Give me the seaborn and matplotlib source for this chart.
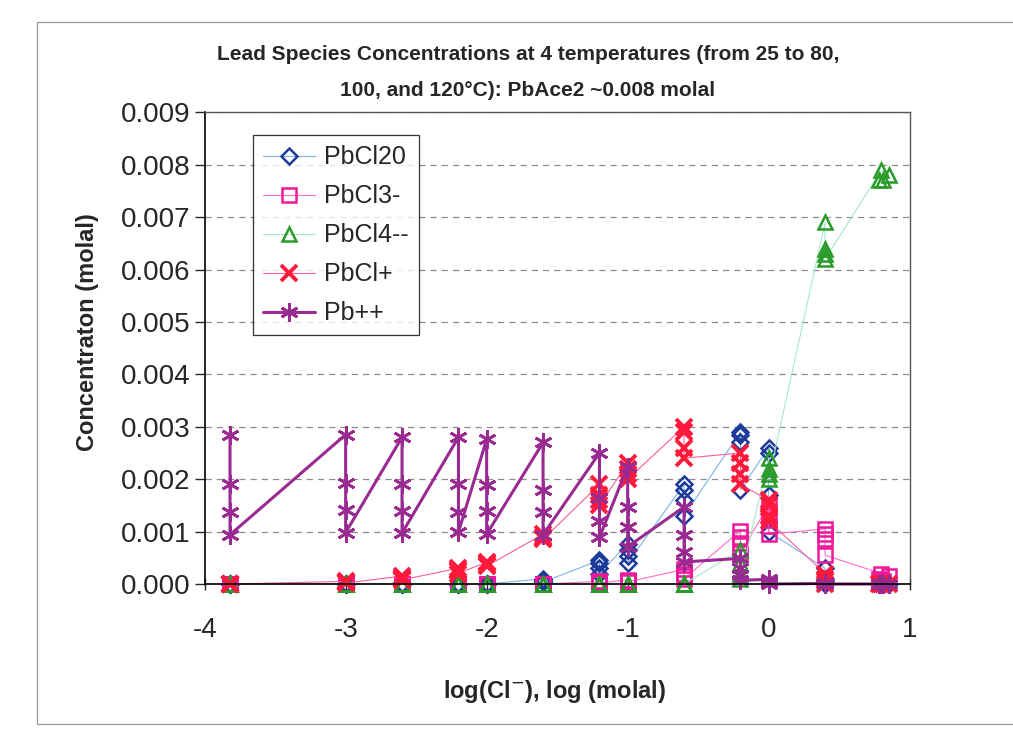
import numpy as np
import pandas as pd
import matplotlib
matplotlib.use("Agg")
import matplotlib.pyplot as plt
import seaborn as sns
from matplotlib.patches import Rectangle

# log(Cl-) of each run; 4 temperatures per run (25, 80, 100, 120 C)
log_cl = [-3.82, -3.0, -2.6, -2.2, -2.0, -1.6, -1.2, -1.0, -0.6, -0.2, 0.0, 0.4]
log_cl_last = [0.80, 0.85, 0.78, 0.81]
temps = [25, 80, 100, 120]

# concentrations (molal), one row per run, columns = temps
pbcl20 = [
    [0, 0, 0, 0], [0, 0, 0, 0], [0, 0, 0, 0], [0, 0, 0, 0], [0, 0, 0, 0],
    [0.0001, 0.00008, 0.00006, 0.00004],
    [0.00045, 0.0004, 0.0003, 0.0002],
    [0.00077, 0.00065, 0.00053, 0.0004],
    [0.0019, 0.0018, 0.0016, 0.0013],
    [0.0029, 0.00285, 0.0027, 0.0018],
    [0.0026, 0.0025, 0.0017, 0.001],
    [0.0003, 0.0001, 0.00005, 0.0],
    [0, 0, 0, 0],
]
pbcl3 = [
    [0, 0, 0, 0], [0, 0, 0, 0], [0, 0, 0, 0], [0, 0, 0, 0], [0, 0, 0, 0], [0, 0, 0, 0],
    [0.00005, 0.00004, 0.00003, 0.00002],
    [0.00008, 0.00006, 0.00005, 0.00004],
    [0.00028, 0.0002, 0.00015, 0.0001],
    [0.00102, 0.0009, 0.00078, 0.0006],
    [0.0015, 0.0013, 0.0011, 0.00095],
    [0.00105, 0.00095, 0.00085, 0.00055],
    [0.0002, 0.00015, 0.0001, 0.00005],
]
pbcl4 = [
    [0, 0, 0, 0], [0, 0, 0, 0], [0, 0, 0, 0], [0, 0, 0, 0], [0, 0, 0, 0],
    [0, 0, 0, 0], [0, 0, 0, 0], [0, 0, 0, 0], [0, 0, 0, 0],
    [0.00065, 0.0004, 0.0002, 0.0001],
    [0.0024, 0.0022, 0.0021, 0.002],
    [0.0069, 0.0064, 0.0063, 0.0062],
    [0.0079, 0.0078, 0.0077, 0.0077],
]
pbcl = [
    [0, 0, 0, 0],
    [0.00005, 0.00004, 0.00003, 0.00002],
    [0.00015, 0.00012, 0.0001, 0.00008],
    [0.0003, 0.00027, 0.00024, 0.0002],
    [0.00042, 0.0004, 0.00037, 0.00034],
    [0.00095, 0.0009, 0.00088, 0.00085],
    [0.0019, 0.0017, 0.0016, 0.0015],
    [0.0023, 0.0022, 0.0021, 0.002],
    [0.003, 0.0029, 0.0026, 0.0024],
    [0.0025, 0.0023, 0.0021, 0.0019],
    [0.0016, 0.0015, 0.0013, 0.0012],
    [0.0002, 0.0001, 0.00005, 0.0],
    [0, 0, 0, 0],
]
pb = [
    [0.00285, 0.0019, 0.00138, 0.00094],
    [0.00285, 0.00193, 0.00142, 0.00098],
    [0.0028, 0.0019, 0.0014, 0.00097],
    [0.0028, 0.0019, 0.00138, 0.00099],
    [0.00276, 0.00188, 0.0014, 0.00095],
    [0.0027, 0.0018, 0.00137, 0.00094],
    [0.0025, 0.00165, 0.0012, 0.00089],
    [0.00224, 0.00147, 0.00109, 0.00071],
    [0.00147, 0.00093, 0.00062, 0.00042],
    [0.00049, 0.0003, 0.00017, 0.00007],
    [0.00009, 0.00006, 0.00003, 0.0],
    [0.00001, 0, 0, 0],
    [0, 0, 0, 0],
]

species = ["PbCl20", "PbCl3-", "PbCl4--", "PbCl+", "Pb++"]
values = [pbcl20, pbcl3, pbcl4, pbcl, pb]


def long_table(name, rows):
    recs = []
    for i, row in enumerate(rows):
        for j, c in enumerate(row):
            x = log_cl_last[j] if i == len(log_cl) else log_cl[i]
            recs.append({"species": name, "log_cl": x, "temp": temps[j], "conc": c})
    return pd.DataFrame(recs)


df = pd.concat([long_table(n, v) for n, v in zip(species, values)], ignore_index=True)

styles = {
    "PbCl20": dict(color="#7fb2e6", lw=0.8, marker="D", ms=8, mec="#1c3a9a", mfc="none", mew=1.8),
    "PbCl3-": dict(color="#ff6fc8", lw=0.8, marker="s", ms=10, mec="#f0189a", mfc="none", mew=1.8),
    "PbCl4--": dict(color="#a6e8c4", lw=0.8, marker="^", ms=10, mec="#2a9a2a", mfc="none", mew=1.8),
    "PbCl+": dict(color="#ff5c9a", lw=0.8, marker="x", ms=12, mec="#ff1a3c", mfc="none", mew=2.8),
    "Pb++": dict(color="#982a92", lw=2.2, marker=(6, 2, 0), ms=13, mec="#982a92", mfc="none", mew=2.0),
}

sns.set_style("white")
plt.rcParams["font.family"] = ["Liberation Sans", "DejaVu Sans"]
plt.rcParams["axes.unicode_minus"] = False

fig = plt.figure(figsize=(10.13, 7.56), dpi=100)
ax = fig.add_axes([0.202, 0.2275, 0.696, 0.624])

for name in species:
    st = styles[name]
    sub = df[df["species"] == name]
    sns.lineplot(data=sub, x="log_cl", y="conc", sort=False, estimator=None, ax=ax,
                 label=name, color=st["color"], linewidth=st["lw"], marker=st["marker"],
                 markersize=st["ms"], markeredgecolor=st["mec"], markerfacecolor=st["mfc"],
                 markeredgewidth=st["mew"], clip_on=False)

ax.set_xlim(-4, 1)
ax.set_ylim(0, 0.009)
ax.set_xticks([-4, -3, -2, -1, 0, 1])
ax.set_yticks(np.arange(0, 0.0091, 0.001))
ax.yaxis.set_major_formatter(matplotlib.ticker.FormatStrFormatter("%.3f"))
ax.tick_params(axis="y", direction="out", length=7, width=1, labelsize=20, pad=3, left=True)
ax.tick_params(axis="x", direction="inout", length=8, width=1, labelsize=20, pad=20, bottom=True)

ax.yaxis.grid(True, color="#8c8c8c", linestyle=(0, (5, 4)), linewidth=0.9)
ax.xaxis.grid(False)
for s in ["left", "bottom"]:
    ax.spines[s].set_color("black")
    ax.spines[s].set_linewidth(1.2)
for s in ["top", "right"]:
    ax.spines[s].set_color("#555555")
    ax.spines[s].set_linewidth(1.0)

ax.set_xlabel("log(Cl$^{-}$), log (molal)", fontsize=17, fontweight="bold")
ax.set_ylabel("Concentraton (molal)", fontsize=17, fontweight="bold")
ax.xaxis.set_label_coords(0.496, -0.199)
ax.yaxis.set_label_coords(-0.150, 0.535)

leg = ax.legend(loc="upper left", bbox_to_anchor=(0.068, 0.951), borderaxespad=0, fontsize=18,
                frameon=True, fancybox=False, edgecolor="black", handlelength=2.1,
                labelspacing=0.6, borderpad=0.4, handletextpad=0.35)
leg.get_frame().set_linewidth(0.9)

fig.text(528 / 1013, 1 - 55 / 756, "Lead Species Concentrations at 4 temperatures (from 25 to 80,",
         ha="center", va="center", fontsize=15, fontweight="bold")
fig.text(528 / 1013, 1 - 90 / 756, "100, and 120°C): PbAce2 ~0.008 molal",
         ha="center", va="center", fontsize=15, fontweight="bold")

fig.patches.append(Rectangle((0.037, 0.042), 1.2, 0.929, transform=fig.transFigure,
                             fill=False, edgecolor="#9a9a9a", linewidth=0.9))

fig.savefig("out.png", dpi=100)
